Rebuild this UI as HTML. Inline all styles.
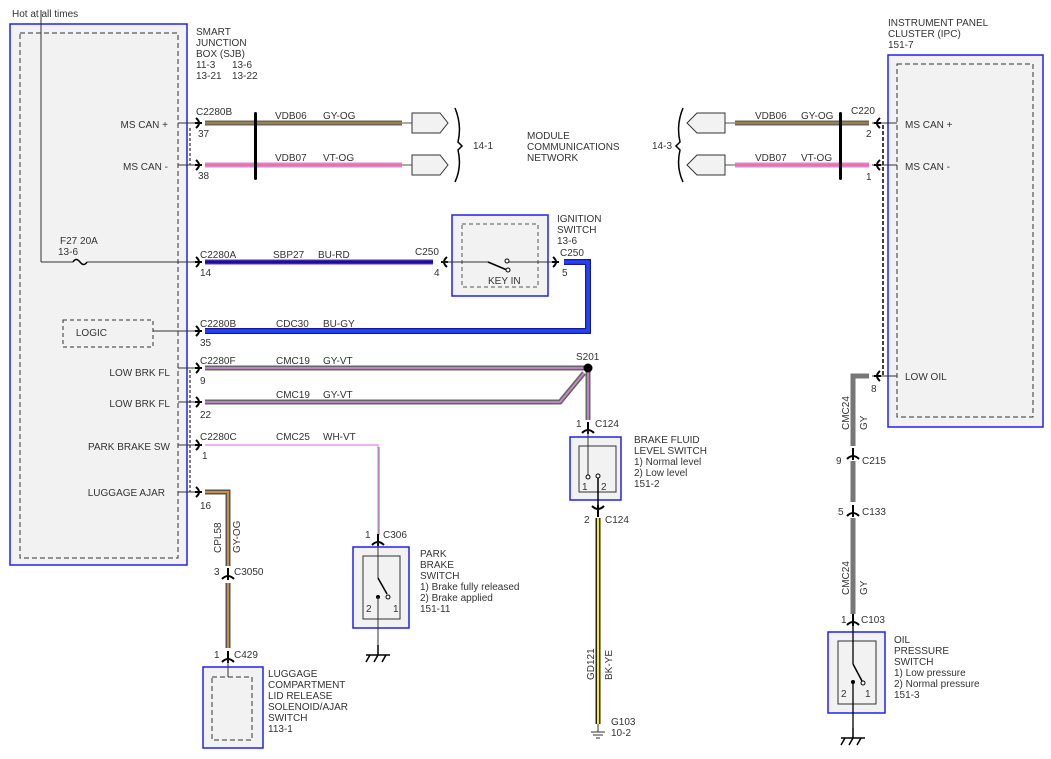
<!DOCTYPE html>
<html><head><meta charset="utf-8"><style>
html,body{margin:0;padding:0;background:#fff}
svg{display:block}
text{font-family:"Liberation Sans",sans-serif;font-size:10px;fill:#333}
</style></head><body>
<svg width="1051" height="759" viewBox="0 0 1051 759" xmlns="http://www.w3.org/2000/svg">
<defs>
<path id="ar" d="M-6,-5 Q0,0 -6,5 M-7,0 H0" fill="none" stroke="#000" stroke-width="2"/>
<path id="al" d="M6,-5 Q0,0 6,5 M7,0 H0" fill="none" stroke="#000" stroke-width="2"/>
<path id="au" d="M-6,5 Q0,-1 6,5 M0,-6 V6" fill="none" stroke="#000" stroke-width="2"/>
<path id="ad" d="M-6,-5 Q0,1 6,-5 M0,-6 V6" fill="none" stroke="#000" stroke-width="2"/>
<path id="gnd" d="M0,0 V10 M-12,10 H12 M-12,17 L-8,10 M-4,17 L0,10 M4,17 L8,10" fill="none" stroke="#000" stroke-width="1.5"/>
</defs>

<text x="12" y="17">Hot at all times</text>
<!-- SJB -->
<rect x="10" y="24" width="177" height="541" fill="#f2f2f2" stroke="#2222ee" stroke-width="1.5"/>
<rect x="20" y="33" width="158" height="525" fill="none" stroke="#333" stroke-dasharray="5,3"/>
<line x1="41" y1="10" x2="41" y2="262" stroke="#333"/>
<line x1="41" y1="262" x2="73" y2="262" stroke="#333"/>
<path d="M73,262 q3,-5 7,0 q4,5 7,0" fill="none" stroke="#000" stroke-width="1.5"/>
<line x1="87" y1="262" x2="198" y2="262" stroke="#333"/>
<text x="60" y="244">F27  20A</text><text x="58" y="255">13-6</text>
<text x="196" y="35">SMART</text><text x="196" y="46">JUNCTION</text><text x="196" y="57">BOX (SJB)</text>
<text x="196" y="68">11-3</text><text x="232" y="68">13-6</text>
<text x="196" y="79">13-21</text><text x="232" y="79">13-22</text>
<text x="168" y="128" text-anchor="end">MS CAN +</text>
<text x="168" y="170" text-anchor="end">MS CAN -</text>
<text x="107" y="336" text-anchor="end">LOGIC</text>
<rect x="63" y="320" width="90" height="27" fill="none" stroke="#333" stroke-dasharray="4,3"/>
<text x="170" y="376" text-anchor="end">LOW BRK FL</text>
<text x="170" y="407" text-anchor="end">LOW BRK FL</text>
<text x="170" y="450" text-anchor="end">PARK BRAKE SW</text>
<text x="165" y="496" text-anchor="end">LUGGAGE AJAR</text>
<line x1="190" y1="128" x2="190" y2="165" stroke="#000" stroke-dasharray="3,2"/>
<line x1="190" y1="370" x2="190" y2="492" stroke="#000" stroke-dasharray="3,2"/>
<g stroke="#333">
<line x1="178" y1="123" x2="200" y2="123"/><line x1="178" y1="165" x2="200" y2="165"/>
<line x1="153" y1="331" x2="200" y2="331"/><line x1="178" y1="368" x2="200" y2="368"/>
<line x1="178" y1="402" x2="200" y2="402"/><line x1="178" y1="445" x2="200" y2="445"/>
<line x1="178" y1="492" x2="200" y2="492"/>
</g>
<use href="#ar" x="202" y="123"/><use href="#ar" x="202" y="165"/><use href="#ar" x="202" y="262"/>
<use href="#ar" x="202" y="331"/><use href="#ar" x="202" y="368"/><use href="#ar" x="202" y="402"/>
<use href="#ar" x="202" y="445"/><use href="#ar" x="202" y="492"/>

<!-- CAN wires left -->
<line x1="205" y1="123" x2="402" y2="123" stroke="#666" stroke-width="5"/>
<line x1="205" y1="123" x2="402" y2="123" stroke="#b08838" stroke-width="1.5"/>
<line x1="205" y1="165" x2="402" y2="165" stroke="#cc88ee" stroke-width="5"/>
<line x1="205" y1="165" x2="402" y2="165" stroke="#ff7080" stroke-width="2"/>
<line x1="402" y1="123" x2="412" y2="123" stroke="#555"/><line x1="402" y1="165" x2="412" y2="165" stroke="#555"/>
<path d="M412,113 H440 L448,123 L440,133 H412 Z" fill="#f2f2f2" stroke="#333"/>
<path d="M412,155 H440 L448,165 L440,175 H412 Z" fill="#f2f2f2" stroke="#333"/>
<path d="M455,108 Q462,125 458,142 L462,146 L458,150 Q462,167 455,182" fill="none" stroke="#000" stroke-width="1.5"/>
<rect x="254" y="112" width="3" height="68" rx="1.5" fill="#000"/>
<text x="196" y="115">C2280B</text><text x="275" y="119">VDB06</text><text x="323" y="119">GY-OG</text>
<text x="198" y="137">37</text>
<text x="275" y="161">VDB07</text><text x="323" y="161">VT-OG</text><text x="198" y="179">38</text>
<text x="473" y="149">14-1</text>
<text x="527" y="139">MODULE</text><text x="527" y="150">COMMUNICATIONS</text><text x="527" y="161">NETWORK</text>

<!-- SBP27 -->
<line x1="205" y1="262" x2="433" y2="262" stroke="#7a3a8a" stroke-width="5"/>
<line x1="205" y1="262" x2="433" y2="262" stroke="#1010b0" stroke-width="3"/>
<text x="200" y="258">C2280A</text><text x="273" y="258">SBP27</text><text x="318" y="258">BU-RD</text>
<text x="200" y="276">14</text><text x="415" y="255">C250</text><text x="434" y="276">4</text>
<use href="#al" x="441" y="262"/>
<!-- ignition switch -->
<rect x="452" y="215" width="96" height="81" fill="#f2f2f2" stroke="#2222ee" stroke-width="1.5"/>
<rect x="462" y="224" width="76" height="63" fill="none" stroke="#555" stroke-dasharray="4,3"/>
<line x1="441" y1="262" x2="488" y2="262" stroke="#333"/>
<line x1="488" y1="262" x2="507" y2="270" stroke="#000" stroke-width="1.5"/>
<circle cx="507" cy="261" r="2" fill="#fff" stroke="#000"/><circle cx="508" cy="270" r="2" fill="#fff" stroke="#000"/>
<line x1="509" y1="262" x2="555" y2="262" stroke="#333"/>
<text x="488" y="284">KEY IN</text>
<text x="557" y="222">IGNITION</text><text x="557" y="233">SWITCH</text><text x="557" y="244">13-6</text>
<text x="560" y="256">C250</text><text x="562" y="276">5</text>
<use href="#ar" x="559" y="262"/>
<path d="M564,262 H588 V331 H205" fill="none" stroke="#1a1a88" stroke-width="6"/>
<path d="M564,262 H588 V331 H205" fill="none" stroke="#2244ff" stroke-width="3.5"/>
<text x="200" y="327">C2280B</text><text x="276" y="327">CDC30</text><text x="323" y="327">BU-GY</text><text x="200" y="346">35</text>

<!-- CMC19 -->
<path d="M205,368 H588 M205,402 H560 L584,373 M588,368 V420" fill="none" stroke="#666" stroke-width="5"/>
<path d="M205,368 H588 M205,402 H560 L584,373 M588,368 V420" fill="none" stroke="#c888cc" stroke-width="1.8"/>
<circle cx="588" cy="368" r="4.5" fill="#000"/>
<text x="576" y="360">S201</text>
<text x="200" y="364">C2280F</text><text x="276" y="364">CMC19</text><text x="323" y="364">GY-VT</text><text x="200" y="384">9</text>
<text x="276" y="398">CMC19</text><text x="323" y="398">GY-VT</text><text x="200" y="418">22</text>
<use href="#au" x="588" y="428"/>
<text x="576" y="427">1</text><text x="595" y="427">C124</text>
<rect x="570" y="437" width="51" height="63" fill="#f2f2f2" stroke="#2222ee" stroke-width="1.5"/>
<rect x="579" y="446" width="37" height="46" fill="none" stroke="#333"/>
<line x1="588" y1="430" x2="588" y2="477" stroke="#333"/>
<circle cx="588" cy="477" r="2" fill="#fff" stroke="#000"/><circle cx="598" cy="476" r="2" fill="#fff" stroke="#000"/>
<line x1="598" y1="478" x2="598" y2="512" stroke="#000" stroke-width="1.5"/>
<text x="582" y="490">1</text><text x="601" y="490">2</text>
<text x="634" y="443">BRAKE FLUID</text><text x="634" y="454">LEVEL SWITCH</text>
<text x="634" y="465">1) Normal level</text><text x="634" y="476">2) Low level</text><text x="634" y="487">151-2</text>
<use href="#ad" x="598" y="511"/>
<text x="584" y="523">2</text><text x="605" y="523">C124</text>
<line x1="598" y1="518" x2="598" y2="724" stroke="#222" stroke-width="5"/>
<line x1="598" y1="518" x2="598" y2="724" stroke="#ffee00" stroke-width="2"/>
<line x1="598" y1="724" x2="598" y2="732" stroke="#333"/>
<path d="M591,732 H605 M593,735 H603 M596,738 H600" stroke="#333"/>
<text x="611" y="725">G103</text><text x="611" y="736">10-2</text>
<text transform="translate(594,680) rotate(-90)">GD121</text>
<text transform="translate(612,680) rotate(-90)">BK-YE</text>

<!-- CMC25 -->
<path d="M205,445 H378 V535" fill="none" stroke="#ee99ee" stroke-width="1.5"/>
<line x1="379" y1="447" x2="379" y2="535" stroke="#777" stroke-width="1"/>
<text x="200" y="440">C2280C</text><text x="276" y="440">CMC25</text><text x="323" y="440">WH-VT</text><text x="202" y="459">1</text>
<use href="#au" x="378" y="540"/>
<text x="365" y="538">1</text><text x="383" y="538">C306</text>
<rect x="353" y="547" width="56" height="81" fill="#f2f2f2" stroke="#2222ee" stroke-width="1.5"/>
<rect x="363" y="556" width="37" height="63" fill="none" stroke="#333"/>
<line x1="378" y1="542" x2="378" y2="578" stroke="#333"/>
<line x1="378" y1="578" x2="387" y2="594" stroke="#000" stroke-width="1.5"/>
<circle cx="378" cy="597" r="2" fill="#000"/><circle cx="388" cy="597" r="2" fill="#fff" stroke="#000"/>
<line x1="378" y1="597" x2="378" y2="645" stroke="#333"/>
<text x="366" y="612">2</text><text x="393" y="612">1</text>
<use href="#gnd" x="378" y="645" transform=""/>
<text x="420" y="557">PARK</text><text x="420" y="568">BRAKE</text><text x="420" y="579">SWITCH</text>
<text x="420" y="590">1) Brake fully released</text><text x="420" y="601">2) Brake applied</text><text x="420" y="612">151-11</text>

<!-- CPL58 -->
<path d="M205,492 H228 V566 M228,583 V648" fill="none" stroke="#555" stroke-width="5"/>
<path d="M205,492 H228 V566 M228,583 V648" fill="none" stroke="#c89040" stroke-width="2"/>
<text x="200" y="509">16</text>
<text transform="translate(221,553) rotate(-90)">CPL58</text>
<text transform="translate(240,553) rotate(-90)">GY-OG</text>
<use href="#au" x="228" y="574"/>
<text x="214" y="575">3</text><text x="234" y="575">C3050</text>
<use href="#au" x="228" y="657"/>
<text x="214" y="658">1</text><text x="234" y="658">C429</text>
<rect x="203" y="667" width="60" height="81" fill="#f2f2f2" stroke="#2222ee" stroke-width="1.5"/>
<rect x="212" y="677" width="40" height="63" fill="none" stroke="#333" stroke-dasharray="5,3"/>
<line x1="228" y1="659" x2="228" y2="677" stroke="#333"/>
<text x="268" y="677">LUGGAGE</text><text x="268" y="688">COMPARTMENT</text><text x="268" y="699">LID RELEASE</text>
<text x="268" y="710">SOLENOID/AJAR</text><text x="268" y="721">SWITCH</text><text x="268" y="732">113-1</text>

<!-- IPC -->
<rect x="888" y="55" width="155" height="372" fill="#f2f2f2" stroke="#2222ee" stroke-width="1.5"/>
<rect x="897" y="64" width="136" height="353" fill="none" stroke="#333" stroke-dasharray="5,3"/>
<text x="888" y="26">INSTRUMENT PANEL</text><text x="888" y="37">CLUSTER (IPC)</text><text x="888" y="48">151-7</text>
<text x="905" y="128">MS CAN +</text><text x="905" y="170">MS CAN -</text><text x="905" y="380">LOW OIL</text>
<line x1="883" y1="125" x2="883" y2="376" stroke="#000" stroke-width="1.5" stroke-dasharray="4,2"/>
<g stroke="#333"><line x1="872" y1="123" x2="897" y2="123"/><line x1="872" y1="165" x2="897" y2="165"/><line x1="872" y1="376" x2="897" y2="376"/></g>
<use href="#al" x="874" y="123"/><use href="#al" x="874" y="165"/><use href="#al" x="874" y="376"/>
<line x1="735" y1="123" x2="869" y2="123" stroke="#666" stroke-width="5"/>
<line x1="735" y1="123" x2="869" y2="123" stroke="#b08838" stroke-width="1.5"/>
<line x1="735" y1="165" x2="869" y2="165" stroke="#cc88ee" stroke-width="5"/>
<line x1="735" y1="165" x2="869" y2="165" stroke="#ff7080" stroke-width="2"/>
<line x1="725" y1="123" x2="735" y2="123" stroke="#555"/><line x1="725" y1="165" x2="735" y2="165" stroke="#555"/>
<path d="M725,113 H697 L687,123 L697,133 H725 Z" fill="#f2f2f2" stroke="#333"/>
<path d="M725,155 H697 L687,165 L697,175 H725 Z" fill="#f2f2f2" stroke="#333"/>
<path d="M683,108 Q676,125 680,142 L676,146 L680,150 Q676,167 683,182" fill="none" stroke="#000" stroke-width="1.5"/>
<rect x="839" y="112" width="3" height="68" rx="1.5" fill="#000"/>
<text x="755" y="119">VDB06</text><text x="801" y="119">GY-OG</text><text x="851" y="114">C220</text><text x="866" y="137">2</text>
<text x="755" y="161">VDB07</text><text x="801" y="161">VT-OG</text><text x="866" y="180">1</text>
<text x="652" y="149">14-3</text>
<text x="871" y="392">8</text>

<path d="M869,376 H853 V446 M853,461 V502 M853,518 V614" fill="none" stroke="#777" stroke-width="5"/>
<text transform="translate(849,430) rotate(-90)">CMC24</text>
<text transform="translate(867,430) rotate(-90)">GY</text>
<use href="#au" x="853" y="454"/><text x="836" y="464">9</text><text x="862" y="464">C215</text>
<use href="#au" x="853" y="511"/><text x="838" y="515">5</text><text x="862" y="515">C133</text>
<text transform="translate(849,595) rotate(-90)">CMC24</text>
<text transform="translate(867,595) rotate(-90)">GY</text>
<use href="#au" x="853" y="620"/><text x="841" y="623">1</text><text x="861" y="623">C103</text>
<rect x="828" y="632" width="57" height="81" fill="#f2f2f2" stroke="#2222ee" stroke-width="1.5"/>
<rect x="838" y="641" width="38" height="63" fill="none" stroke="#333"/>
<line x1="853" y1="622" x2="853" y2="664" stroke="#000" stroke-width="1.3"/>
<line x1="853" y1="664" x2="862" y2="681" stroke="#000" stroke-width="1.5"/>
<circle cx="853" cy="682" r="2" fill="#000"/><circle cx="863" cy="683" r="2" fill="#fff" stroke="#000"/>
<line x1="853" y1="682" x2="853" y2="728" stroke="#000" stroke-width="1.3"/>
<text x="841" y="697">2</text><text x="865" y="697">1</text>
<use href="#gnd" x="853" y="728"/>
<text x="894" y="643">OIL</text><text x="894" y="654">PRESSURE</text><text x="894" y="665">SWITCH</text>
<text x="894" y="676">1) Low pressure</text><text x="894" y="687">2) Normal pressure</text><text x="894" y="698">151-3</text>
</svg>
</body></html>
